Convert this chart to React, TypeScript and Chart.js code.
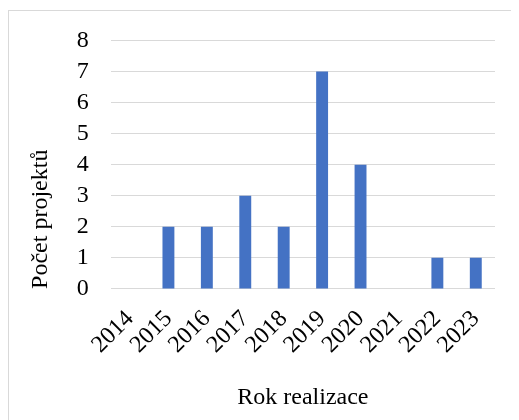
import React, { useEffect, useRef } from "react";
import { Chart, registerables } from "chart.js";

Chart.register(...registerables);

const years = ["2014", "2015", "2016", "2017", "2018", "2019", "2020", "2021", "2022", "2023"];
const projects = [0, 2, 2, 3, 2, 7, 4, 0, 1, 1];
const yTicks = [0, 1, 2, 3, 4, 5, 6, 7, 8];
const xTitle = "Rok realizace";
const yTitle = "Počet projektů";

export default function App() {
  const ref = useRef<HTMLCanvasElement | null>(null);
  useEffect(() => {
    if (!ref.current) return;
    const font = { family: "'Liberation Serif', 'Times New Roman', serif", size: 24 };
    const chart = new Chart(ref.current, {
      type: "bar",
      data: {
        labels: years,
        datasets: [
          {
            data: projects,
            backgroundColor: "#4472C4",
            barPercentage: 0.31,
            categoryPercentage: 1,
          },
        ],
      },
      options: {
        animation: false,
        responsive: false,
        maintainAspectRatio: false,
        layout: { padding: { left: 18, right: 24, top: 0, bottom: 0 } },
        plugins: { legend: { display: false }, tooltip: { enabled: false } },
        scales: {
          x: {
            grid: { display: false },
            border: { display: false },
            ticks: { font, color: "#000", maxRotation: 45, minRotation: 45, padding: 8, autoSkip: false },
            title: { display: true, text: xTitle, font, color: "#000", padding: { top: 16, bottom: 8 } },
          },
          y: {
            min: 0,
            max: 8,
            afterBuildTicks: (axis: any) => {
              axis.ticks = yTicks.map((v) => ({ value: v }));
            },
            grid: { color: "#d9d9d9", lineWidth: 1, drawTicks: false },
            border: { display: false },
            ticks: { font, color: "#000", padding: 22, autoSkip: false },
            title: { display: true, text: yTitle, font, color: "#000", align: "start", padding: { top: 0, bottom: 0 } },
          },
        },
      },
    });
    return () => chart.destroy();
  }, []);
  return (
    <div style={{ position: "relative", width: 511, height: 412, overflow: "hidden" }}>
      <div
        style={{
          position: "absolute",
          left: 0,
          top: 2,
          width: 700,
          height: 700,
          borderLeft: "1px solid #d9d9d9",
          borderTop: "1px solid #d9d9d9",
        }}
      />
      <canvas ref={ref} width={511} height={416} style={{ position: "absolute", left: 0, top: -4 }} />
    </div>
  );
}
